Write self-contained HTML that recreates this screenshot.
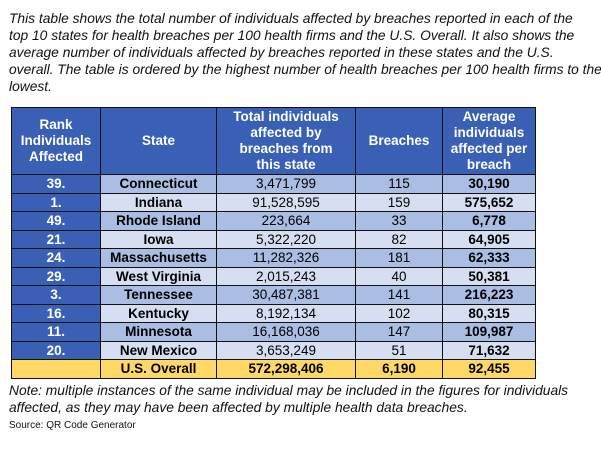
<!DOCTYPE html>
<html><head><meta charset="utf-8"><style>
body{margin:0;width:601px;height:449px;overflow:hidden;background:#fff;font-family:"Liberation Sans",Arial,sans-serif;position:relative}
.t{position:absolute;left:9px;font-style:italic;font-size:13.8px;color:#111;white-space:nowrap;line-height:17px}
table{position:absolute;left:11px;top:107px;border-collapse:collapse;font-size:13.5px}
td,th{border:1.3px solid #111;padding:0;text-align:center}
td{line-height:17.5px}
th{background:#3a60b6;color:#fff;font-weight:bold;font-size:13.5px;height:66px;line-height:16px}
td.r{background:#3a60b6;color:#fff;font-weight:bold}
tr.a td{background:#aabde3}tr.b td{background:#d5dff1}
tr.a td.r,tr.b td.r{background:#3a60b6}
td.s,td.v{font-weight:bold}
tr.us td{background:#ffd867;font-weight:bold;color:#000}
</style></head><body>
<div class="t" style="top:10px">This table shows the total number of individuals affected by breaches reported in each of the<br>top 10 states for health breaches per 100 health firms and the U.S. Overall. It also shows the<br>average number of individuals affected by breaches reported in these states and the U.S.<br>overall. The table is ordered by the highest number of health breaches per 100 health firms to the<br>lowest.</div>
<table>
<tr><th style="width:88px">Rank<br>Individuals<br>Affected</th><th style="width:115px">State</th><th style="width:138px">Total individuals<br>affected by<br>breaches from<br>this state</th><th style="width:86px">Breaches</th><th style="width:92px">Average<br>individuals<br>affected per<br>breach</th></tr>
<tr class="a"><td class="r">39.</td><td class="s">Connecticut</td><td>3,471,799</td><td>115</td><td class="v">30,190</td></tr>
<tr class="b"><td class="r">1.</td><td class="s">Indiana</td><td>91,528,595</td><td>159</td><td class="v">575,652</td></tr>
<tr class="a"><td class="r">49.</td><td class="s">Rhode Island</td><td>223,664</td><td>33</td><td class="v">6,778</td></tr>
<tr class="b"><td class="r">21.</td><td class="s">Iowa</td><td>5,322,220</td><td>82</td><td class="v">64,905</td></tr>
<tr class="a"><td class="r">24.</td><td class="s">Massachusetts</td><td>11,282,326</td><td>181</td><td class="v">62,333</td></tr>
<tr class="b"><td class="r">29.</td><td class="s">West Virginia</td><td>2,015,243</td><td>40</td><td class="v">50,381</td></tr>
<tr class="a"><td class="r">3.</td><td class="s">Tennessee</td><td>30,487,381</td><td>141</td><td class="v">216,223</td></tr>
<tr class="b"><td class="r">16.</td><td class="s">Kentucky</td><td>8,192,134</td><td>102</td><td class="v">80,315</td></tr>
<tr class="a"><td class="r">11.</td><td class="s">Minnesota</td><td>16,168,036</td><td>147</td><td class="v">109,987</td></tr>
<tr class="b"><td class="r">20.</td><td class="s">New Mexico</td><td>3,653,249</td><td>51</td><td class="v">71,632</td></tr>
<tr class="us"><td></td><td>U.S. Overall</td><td>572,298,406</td><td>6,190</td><td>92,455</td></tr>
</table>
<div class="t" style="top:382px">Note: multiple instances of the same individual may be included in the figures for individuals<br>affected, as they may have been affected by multiple health data breaches.</div>
<div style="position:absolute;left:9px;top:420px;font-size:10px;color:#111">Source: QR Code Generator</div>
</body></html>
